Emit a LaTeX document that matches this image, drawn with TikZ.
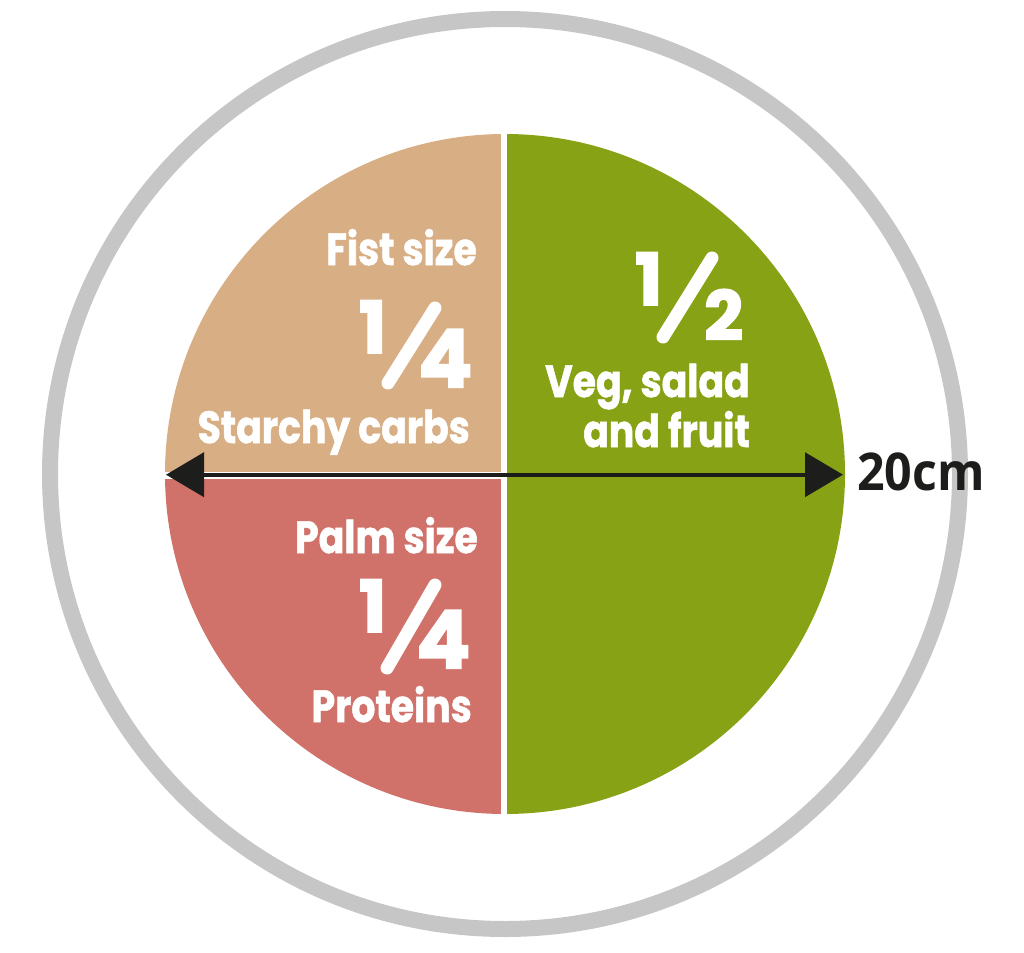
\documentclass[tikz,border=0pt]{standalone}
\usepackage{fontspec}
\usetikzlibrary{arrows.meta}
\newfontfamily\lblfont{Poppins}[FakeStretch=0.84, BoldFeatures={FakeBold=1.2}]
\newfontfamily\digitfont{Poppins}[BoldFeatures={FakeBold=2.5}]
\newfontfamily\dimfont{Open Sans}[FakeStretch=0.93]
\definecolor{plategray}{HTML}{C6C6C6}
\definecolor{carbtan}{HTML}{D8AE84}
\definecolor{protred}{HTML}{D0726A}
\definecolor{veggreen}{HTML}{87A315}
\definecolor{inkblack}{HTML}{1D1D1B}
\begin{document}
\begin{tikzpicture}[x=1pt,y=-1pt,
  lbl/.style={text=white, font=\lblfont\bfseries\fontsize{45}{45}\selectfont, inner sep=0pt, anchor=base east},
  digit/.style={text=white, font=\digitfont\bfseries\fontsize{#1}{#1}\selectfont, inner sep=0pt, anchor=base west},
  slashline/.style={white, line width=13pt, line cap=round},
  dimarrow/.style={inkblack, line width=4pt, {Triangle[length=38pt,width=44pt]}-{Triangle[length=38pt,width=44pt]}}]
\useasboundingbox (0,0) rectangle (1024,952);
\coordinate (C) at (505,474);
% plate rim
\draw[plategray, line width=16pt] (C) circle[radius=455];
% quarters
\begin{scope}
  \clip (160,130) rectangle (505,474);
  \fill[carbtan] (C) circle[radius=340];
\end{scope}
\begin{scope}
  \clip (160,474) rectangle (505,820);
  \fill[protred] (C) circle[radius=340];
\end{scope}
\begin{scope}
  \clip (505,130) rectangle (850,820);
  \fill[veggreen] (C) circle[radius=340];
\end{scope}
% white separations
\coordinate (vtop) at (504,125);
\coordinate (vbot) at (504,825);
\coordinate (hl) at (158,475.3);
\coordinate (hr) at (504,475.3);
\draw[white, line width=6pt] (vtop) -- (vbot);
\draw[white, line width=7.3pt] (hl) -- (hr);
% dimension arrow
\coordinate (L) at (166,474.7);
\coordinate (R) at (843,474.7);
\draw[dimarrow] (L) -- (R);
\node[anchor=base west, text=inkblack, font=\dimfont\bfseries\fontsize{52}{52}\selectfont, inner sep=0pt] (dim) at (857,490) {20cm};
% labels
\node[lbl] (fist) at (477,265) {Fist size};
\node[lbl] (starchy) at (470,443) {Starchy carbs};
\node[lbl] (palm) at (478,553) {Palm size};
\node[lbl] (prot) at (472,722) {Proteins};
\node[lbl] (veg) at (750,397) {Veg, salad};
\node[lbl] (fruit) at (750,447) {and fruit};
% fractions
\node[digit=72] (aone) at (359,353) {1};
\coordinate (asa) at (435,308);
\coordinate (asb) at (388,383);
\draw[slashline] (asa) -- (asb);
\node[digit=80] (afour) at (418,387) {4};
\node[digit=72] (bone) at (359,632) {1};
\coordinate (bsa) at (435,585);
\coordinate (bsb) at (387,668);
\draw[slashline] (bsa) -- (bsb);
\node[digit=80] (bfour) at (416,668) {4};
\node[digit=72] (cone) at (635,305) {1};
\coordinate (csa) at (712,258);
\coordinate (csb) at (663,337);
\draw[slashline] (csa) -- (csb);
\node[digit=68] (ctwo) at (704,340) {2};
\end{tikzpicture}
\end{document}
